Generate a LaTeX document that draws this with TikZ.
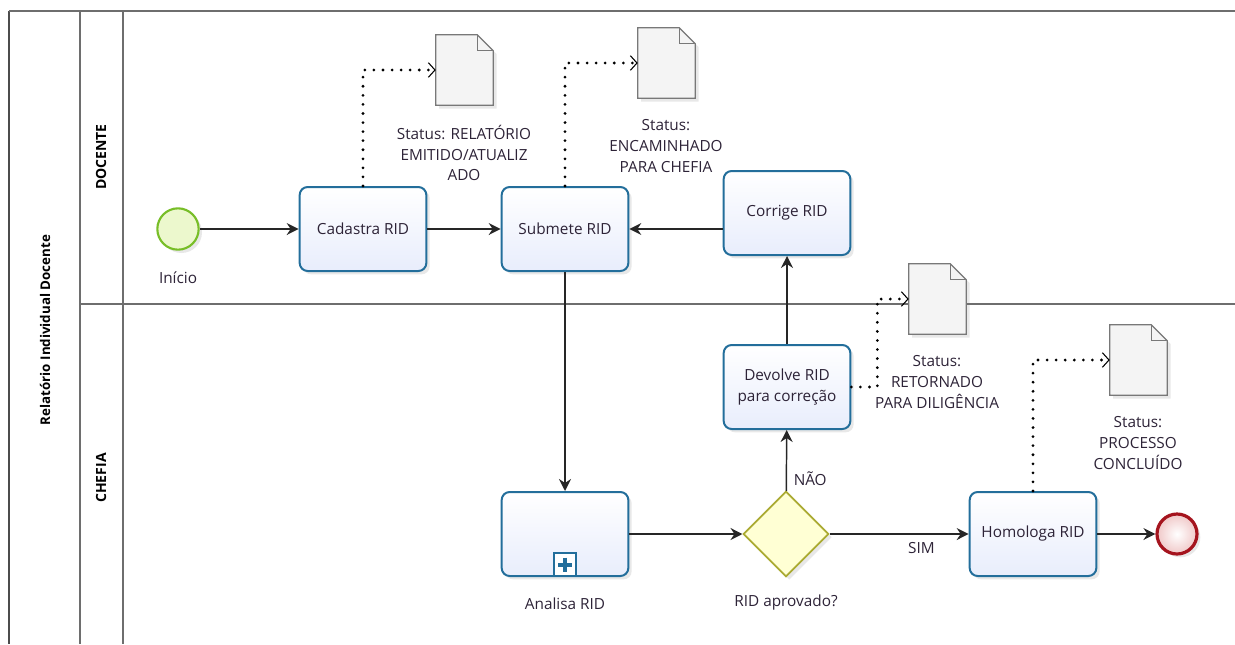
\documentclass[tikz,border=0pt]{standalone}
\usepackage{fontspec}
\setmainfont{Open Sans}
\usetikzlibrary{arrows.meta,shapes.geometric,shadows,calc}

\definecolor{taskline}{RGB}{35,110,155}
\definecolor{taskfill}{RGB}{232,237,252}
\definecolor{startline}{RGB}{120,190,40}
\definecolor{startfill}{RGB}{236,248,205}
\definecolor{endline}{RGB}{165,20,30}
\definecolor{endfill}{RGB}{240,200,200}
\definecolor{gateline}{RGB}{170,170,50}
\definecolor{gatefill}{RGB}{255,255,212}
\definecolor{docline}{RGB}{120,120,120}
\definecolor{docfill}{RGB}{244,244,244}
\definecolor{laneline}{RGB}{110,110,110}
\definecolor{labeltext}{RGB}{45,35,55}

\tikzset{
  softshadow/.style={drop shadow={opacity=0.18,shadow xshift=2.5pt,shadow yshift=-2.5pt}},
  task/.style={draw=taskline, line width=1.5pt, rounded corners=6pt,
    top color=white, bottom color=taskfill, minimum width=95pt, minimum height=63pt,
    align=center, text=labeltext, softshadow},
  startev/.style={circle, draw=startline, line width=1.6pt, fill=startfill,
    minimum size=31pt, inner sep=0pt, softshadow},
  endev/.style={circle, draw=endline, line width=2.4pt, inner color=white, outer color=endfill,
    minimum size=30pt, inner sep=0pt, softshadow},
  gateway/.style={diamond, draw=gateline, line width=1.3pt, fill=gatefill,
    minimum width=64pt, minimum height=64pt, inner sep=0pt, softshadow},
  docsheet/.style={minimum width=42.75pt, minimum height=52.5pt, inner sep=0pt},
  docpath/.style={draw=docline, line width=0.9pt, fill=docfill, softshadow},
  flow/.style={-{Stealth[length=9pt,width=9pt,inset=3pt]}, line width=1.1pt, black!85},
  assoc/.style={line width=2.3pt, dash pattern=on 0pt off 6.8pt, line cap=round,
    -{Straight Barb[length=5pt,width=11pt,line width=0.8pt,line cap=butt]}},
  lane/.style={draw=laneline, line width=1.1pt},
  statuslabel/.style={align=center, text=labeltext, inner sep=0pt},
  evlabel/.style={text=labeltext, inner sep=0pt},
  lanetitle/.style={rotate=90, font=\bfseries\fontsize{10.5}{13}\selectfont, inner sep=0pt}
}

\begin{document}
\begin{tikzpicture}[x=0.75pt,y=0.75pt,yscale=-1,xscale=1,
  font=\fontsize{11.5}{15.4}\selectfont]
\useasboundingbox (0,0) rectangle (1235,644);

% pool and lanes
\draw[lane, draw=black!70] (9,11) -- (9,644);
\draw[lane] (9,11) -- (1235,11);
\draw[lane] (80,11) -- (80,644);
\draw[lane] (123,11) -- (123,644);
\draw[lane] (80,304) -- (1235,304);

\node[lanetitle, font=\bfseries\fontsize{10}{12}\selectfont] (pooltitle) at (45,330) {Relatório Individual Docente};
\node[lanetitle] (docente) at (101,157) {DOCENTE};
\node[lanetitle] (chefia) at (101,478) {CHEFIA};

% events, tasks, gateway
\node[startev] (start) at (178,229) {};
\node[evlabel] (startlbl) at (178,278) {Início};

\node[task] (cad) at (363,229) {Cadastra RID};
\node[task] (sub) at (565,229) {Submete RID};
\node[task] (cor) at (787,213) {Corrige RID};
\node[task] (dev) at (787,387) {Devolve RID\\para correção};
\node[task] (ana) at (565,534) {};
\node[evlabel] (analbl) at (565,604) {Analisa RID};

% subprocess marker
\node[draw=taskline, line width=1.4pt, fill=white, minimum size=17pt, inner sep=0pt, anchor=south] (anamark) at (ana.south) {};
\draw[taskline, line width=3pt] ($(anamark)+(-7,0)$) -- ($(anamark)+(7,0)$);
\draw[taskline, line width=3pt] ($(anamark)+(0,-7)$) -- ($(anamark)+(0,7)$);

\node[gateway] (gw) at (786,534) {};
\node[evlabel] (gwlbl) at (786,603) {RID aprovado?};

\node[task] (hom) at (1033,534) {Homologa RID};
\node[endev] (end) at (1177,534) {};

% data objects
\node[docsheet] (d1) at (464.5,70) {};
\node[docsheet] (d2) at (666.5,63) {};
\node[docsheet] (d3) at (937.5,299) {};
\node[docsheet] (d4) at (1138.5,360) {};
\foreach \d in {d1,d2,d3,d4} {
  \draw[docpath] (\d.south west) -- (\d.north west) -- ($(\d.north east)+(-16,0)$)
    -- ($(\d.north east)+(0,16)$) -- (\d.south east) -- cycle;
  \draw[docline, line width=0.9pt] ($(\d.north east)+(-16,0)$) -- ($(\d.north east)+(-16,16)$) -- ($(\d.north east)+(0,16)$);
}

\node[statuslabel] (s1) at (464,153) {Status: RELATÓRIO\\EMITIDO/ATUALIZ\\ADO};
\node[statuslabel] (s2) at (666,146) {Status:\\ENCAMINHADO\\PARA CHEFIA};
\node[statuslabel] (s3) at (937,382) {Status:\\RETORNADO\\PARA DILIGÊNCIA};
\node[statuslabel] (s4) at (1138,443) {Status:\\PROCESSO\\CONCLUÍDO};

% sequence flows
\draw[flow] (start) -- (cad);
\draw[flow] (cad) -- (sub);
\draw[flow] (cor.west |- sub.east) -- (sub.east);
\draw[flow] (sub) -- (ana);
\draw[flow] (ana) -- (gw);
\draw[flow] (gw) -- node[pos=0.2, anchor=west, xshift=5pt, evlabel] {NÃO} (dev);
\draw[flow] (dev) -- (cor);
\draw[flow] (gw) -- node[pos=0.66, anchor=north, yshift=-6pt, evlabel] {SIM} (hom);
\draw[flow] (hom) -- (end);

% associations
\draw[assoc] (cad.north) |- (d1.west);
\draw[assoc] (sub.north) |- (d2.west);
\draw[assoc] (dev.east) -- ++(26,0) |- (d3.west);
\draw[assoc] (hom.north) |- (d4.west);

\end{tikzpicture}
\end{document}
